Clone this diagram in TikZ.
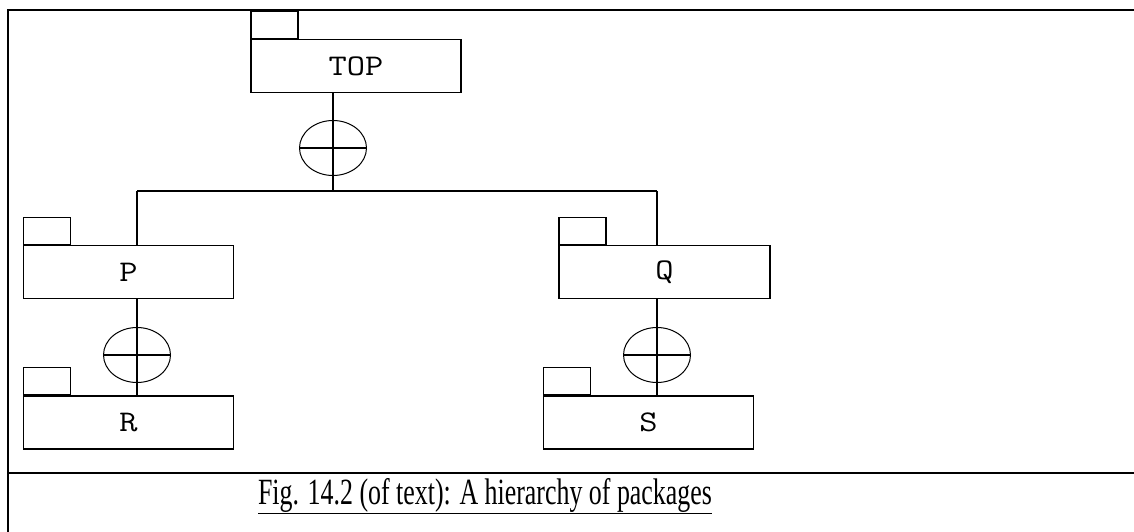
\documentclass[tikz,border=0pt]{standalone}
\usepackage{fontspec}
\setmainfont{Liberation Serif}
\usepackage{tikz}
\usetikzlibrary{shapes.geometric}

% package names are set wide, in a typewriter face
\newcommand{\pkgname}[1]{\scalebox{1.18}[1]{#1}}

\begin{document}
\begin{tikzpicture}[x=1pt, y=-1pt,
    pkg/.style = {draw, line width=1.1pt, minimum width=210pt, minimum height=53pt,
                  inner sep=0pt, font=\ttfamily\fontsize{30}{30}\selectfont},
    tab/.style = {draw, line width=1.1pt, minimum width=47pt, minimum height=27pt,
                  inner sep=0pt, anchor=south west},
    joint/.style = {draw, ellipse, line width=1pt, minimum width=67pt,
                    minimum height=55pt, inner sep=0pt},
    link/.style = {line width=1.1pt}]
        \useasboundingbox (0,0) rectangle (1134,532);
        % frame of the cell
        \draw[line width=2pt] (8,540) -- (8,10) -- (1140,10);
        \draw[line width=2pt] (8,473) -- (1140,473);

        % packages
        \node[pkg] (top) at (356,66) {\pkgname{TOP}};
        \node[pkg] (p) at (128.5,272) {\pkgname{P}};
        \node[pkg, minimum width=211pt] (q) at (664.5,272) {\pkgname{Q}};
        \node[pkg] (r) at (128.5,422.5) {\pkgname{R}};
        \node[pkg] (s) at (648.5,422.5) {\pkgname{S}};
        \node[tab] (toptab) at (top.north west) {};
        \node[tab] (ptab) at (p.north west) {};
        \node[tab] (qtab) at (q.north west) {};
        \node[tab] (rtab) at (r.north west) {};
        \node[tab] (stab) at (s.north west) {};

        % containment joints
        \node[joint] (jtop) at (333,148) {};
        \node[joint] (jp) at (137,355) {};
        \node[joint] (jq) at (657,355) {};
        \coordinate (split) at (333,191);
        \coordinate (left) at (137,191);
        \coordinate (right) at (657,191);

        \draw[link] (jtop.north |- top.south) -- (split);
        \draw[link] (jtop.west) -- (jtop.east);
        \draw[link] (left) -- (right);
        \draw[link] (left) -- (left |- p.north);
        \draw[link] (right) -- (right |- q.north);
        \draw[link] (jp.north |- p.south) -- (jp.north |- r.north);
        \draw[link] (jp.west) -- (jp.east);
        \draw[link] (jq.north |- q.south) -- (jq.north |- s.north);
        \draw[link] (jq.west) -- (jq.east);

        % caption
        \node[font=\fontsize{37}{37}\selectfont, xscale=0.70] (caption) at (485,496)
            {\underline{Fig. 14.2 (of text): A hierarchy of packages}};
\end{tikzpicture}
\end{document}
